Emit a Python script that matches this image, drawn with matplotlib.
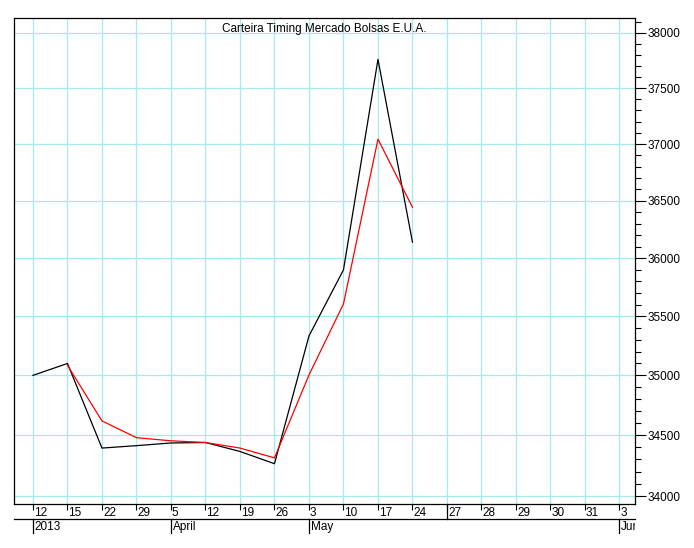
import matplotlib
matplotlib.use("Agg")
import matplotlib.pyplot as plt
import matplotlib.transforms as mtransforms
from matplotlib.ticker import FixedLocator, FixedFormatter, NullFormatter

plt.rcParams["font.family"] = ["Liberation Sans", "DejaVu Sans"]

# weekly ticks, then daily ticks at the end of the axis
tick_labels = ["12", "15", "22", "29", "5", "12", "19", "26", "3", "10",
               "17", "24", "27", "28", "29", "30", "31", "3"]
months = ["2013", "April", "May", "Jun"]
month_start = [0, 4, 8, 17]

black_values = [35000, 35100, 34394, 34414, 34436, 34440, 34366, 34265,
                35333, 35898, 37760, 36138]
red_values = [None, 35085, 34619, 34480, 34454, 34440, 34394, 34313,
              35003, 35606, 37043, 36442]

W, H = 694, 548
fig = plt.figure(figsize=(W / 100, H / 100), dpi=100)
left, right, top, bottom = 14, 635, 18, 504
ax = fig.add_axes([left / W, 1 - bottom / H, (right - left) / W, (bottom - top) / H])

grid_col = "#a6eaea"
x = list(range(len(tick_labels)))
xb = x[:len(black_values)]
xr = [i for i, v in zip(x, red_values) if v is not None]
yr = [v for v in red_values if v is not None]

ax.set_yscale("log")
ax.set_ylim(33935, 38137)
ax.set_xlim(-0.55, len(tick_labels) - 0.55)

ax.plot(xb, black_values, color="black", lw=0.9, zorder=3)
ax.plot(xr, yr, color="red", lw=0.9, zorder=4)

# y axis on the right
major = list(range(34000, 38001, 500))
minor = [v for v in range(34000, 38101, 100) if v % 500]
ax.yaxis.tick_right()
ax.yaxis.set_major_locator(FixedLocator(major))
ax.yaxis.set_minor_locator(FixedLocator(minor))
ax.yaxis.set_major_formatter(FixedFormatter([str(v) for v in major]))
ax.yaxis.set_minor_formatter(NullFormatter())
ax.tick_params(axis="y", which="major", direction="out", length=8, width=0.8,
               labelsize=8.5, pad=1, colors="black")
ax.tick_params(axis="y", which="minor", direction="out", length=4, width=0.8)

ax.set_xticks(x)
ax.set_xticklabels(tick_labels)
ax.tick_params(axis="x", direction="out", length=4, width=0.8, labelsize=8.5, pad=-2)
for lab in ax.get_xticklabels():
    lab.set_horizontalalignment("left")
    lab.set_transform(lab.get_transform() + mtransforms.ScaledTranslation(1 / 100, 0, fig.dpi_scale_trans))

ax.grid(True, which="major", color=grid_col, lw=0.9, zorder=0)
ax.set_axisbelow(True)
for s in ax.spines.values():
    s.set_linewidth(0.9)
    s.set_color("black")

h = bottom - top
ax.text(0.5, 1 - (29 - top) / h, "Carteira Timing Mercado Bolsas E.U.A.",
        transform=ax.transAxes, ha="center", va="center", fontsize=8.5)

# second row of the date axis
trans = mtransforms.blended_transform_factory(ax.transData, ax.transAxes)
y_line = -(519 - bottom) / h
y_low = -(533 - bottom) / h
y_txt = -(527 - bottom) / h
ax.plot([0, 1], [y_line, y_line], transform=ax.transAxes, color="black", lw=0.9, clip_on=False)
ax.plot([12, 12], [0, y_line], transform=trans, color="black", lw=0.9, clip_on=False)
clip_box = mtransforms.TransformedBbox(
    mtransforms.Bbox([[0, 0], [right / W, 1]]), fig.transFigure)
for name, pos in zip(months, month_start):
    ax.plot([pos, pos], [y_line, y_low], transform=trans, color="black", lw=0.9, clip_on=False)
    t = ax.text(pos + 0.05, y_txt, name, transform=trans, ha="left", va="center", fontsize=8.5)
    t.set_clip_box(clip_box)
    t.set_clip_on(True)

fig.savefig("out.png", dpi=100)
